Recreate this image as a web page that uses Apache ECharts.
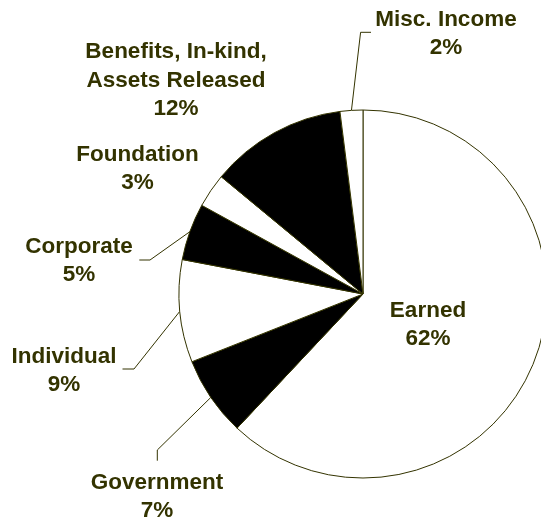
<!DOCTYPE html>
<html>
<head>
<meta charset="utf-8">
<script src="https://cdn.jsdelivr.net/npm/echarts@6/dist/echarts.min.js"></script>
<style>
  html, body { margin: 0; padding: 0; background: #ffffff; }
  #chart { width: 541px; height: 520px; }
</style>
</head>
<body>
<div id="chart"></div>
<script>
// Revenue sources, clockwise from 12 o'clock
const categories = [
  'Earned',
  'Government',
  'Individual',
  'Corporate',
  'Foundation',
  'Benefits, In-kind,\nAssets Released',
  'Misc. Income'
];
const shares = [62, 7, 9, 5, 3, 12, 2];
const fills = ['#ffffff', '#000000', '#ffffff', '#000000', '#ffffff', '#000000', '#ffffff'];

// Where each text block is centred, and the elbow + end of its leader line (if any)
const labelSpots = [
  { x: 428, y: 325 },
  { x: 157, y: 497, leader: [[157.3, 450], [157.3, 460.7]] },
  { x: 64,  y: 371, leader: [[134, 369], [122.5, 369]] },
  { x: 79,  y: 261, leader: [[150, 260], [139.3, 260]] },
  { x: 137.5, y: 169 },
  { x: 176, y: 80.7 },
  { x: 446, y: 34,  leader: [[360.6, 32.3], [371, 32.3]] }
];

const ink = '#333300';

const chart = echarts.init(document.getElementById('chart'), null, { renderer: 'canvas' });

chart.setOption({
  animation: false,
  backgroundColor: '#ffffff',
  series: [{
    type: 'pie',
    center: [363, 294],
    radius: 184,
    startAngle: 90,
    clockwise: true,
    avoidLabelOverlap: false,
    silent: true,
    emphasis: { disabled: true },
    itemStyle: { borderColor: ink, borderWidth: 1 },
    label: {
      show: true,
      position: 'outside',
      formatter: '{b}\n{c}%',
      color: ink,
      fontFamily: '"Liberation Sans", Arial, sans-serif',
      fontWeight: 'bold',
      fontSize: 22.5,
      lineHeight: 28.5,
      align: 'center',
      overflow: 'none'
    },
    labelLine: {
      show: true,
      smooth: false,
      length: 10,
      length2: 10,
      lineStyle: { color: ink, width: 1 }
    },
    labelLayout: function (p) {
      const spot = labelSpots[p.dataIndex];
      const out = { x: spot.x, y: spot.y, align: 'center', verticalAlign: 'middle' };
      if (spot.leader && p.labelLinePoints) {
        out.labelLinePoints = [p.labelLinePoints[0], spot.leader[0], spot.leader[1]];
      }
      return out;
    },
    data: categories.map(function (name, i) {
      return {
        name: name,
        value: shares[i],
        itemStyle: { color: fills[i] },
        labelLine: { show: !!labelSpots[i].leader }
      };
    })
  }]
});
</script>
</body>
</html>
